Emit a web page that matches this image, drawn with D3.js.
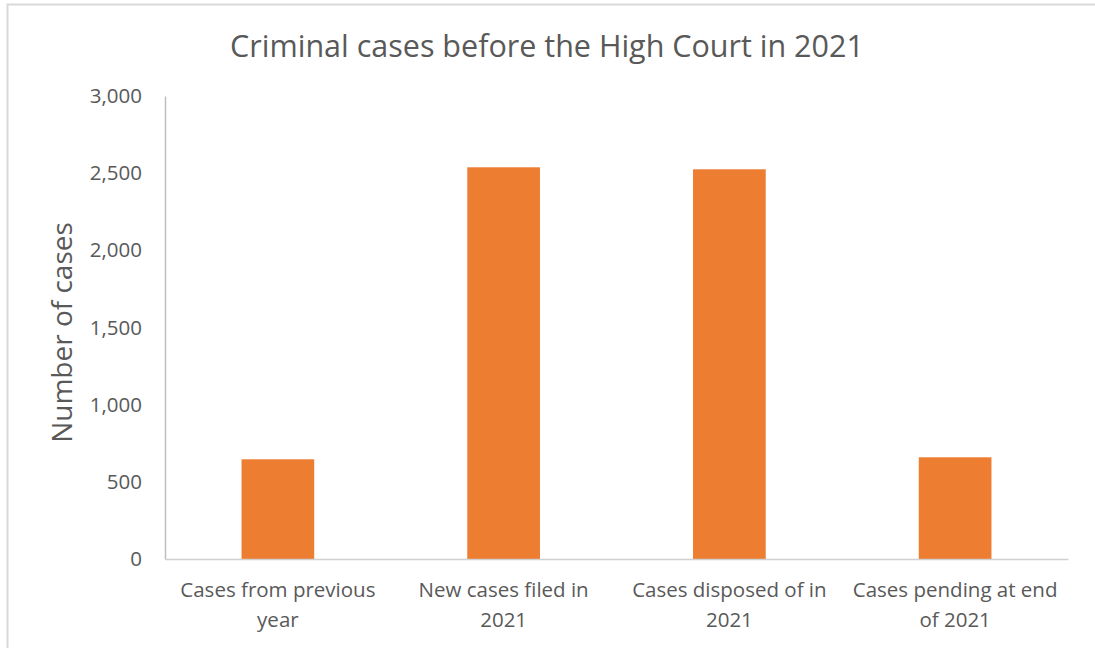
<!DOCTYPE html>
<html>
<head>
<meta charset="utf-8">
<script src="https://cdn.jsdelivr.net/npm/d3@7"></script>
<style>
  html, body { margin: 0; padding: 0; background: #fff; }
  svg { display: block; font-family: "Open Sans", sans-serif; }
</style>
</head>
<body>
<svg id="chart" width="1095" height="648"></svg>
<script>
// Criminal cases before the High Court in 2021
const categories = [
  ["Cases from previous", "year"],
  ["New cases filed in", "2021"],
  ["Cases disposed of in", "2021"],
  ["Cases pending at end", "of 2021"]
];
const values = [646, 2538, 2525, 659];
const yTicks = [0, 500, 1000, 1500, 2000, 2500, 3000];

const svg = d3.select("#chart");
const W = 1095, H = 648;
const plot = { left: 165, right: 1068, top: 96, bottom: 559 };
const textColor = "#595959";

// outer chart frame
svg.append("rect")
  .attr("x", 7.5).attr("y", 4.5)
  .attr("width", W + 10).attr("height", H + 10)
  .attr("fill", "#fff").attr("stroke", "#d9d9d9").attr("stroke-width", 2);

const keys = categories.map(d => d.join(" "));
const x = d3.scaleBand()
  .domain(keys)
  .range([plot.left, plot.right])
  .paddingInner(0.678)
  .paddingOuter(0.339);

const y = d3.scaleLinear()
  .domain([0, 3000])
  .range([plot.bottom, plot.top]);

// bars
svg.append("g").selectAll("rect")
  .data(values)
  .join("rect")
  .attr("x", (d, i) => x(keys[i]))
  .attr("y", d => y(d))
  .attr("width", x.bandwidth())
  .attr("height", d => y(0) - y(d))
  .attr("fill", "#ed7d31");

// y axis
const yAxis = d3.axisLeft(y)
  .tickValues(yTicks)
  .tickSize(0)
  .tickPadding(23)
  .tickFormat(d3.format(","));
const gy = svg.append("g")
  .attr("transform", `translate(${plot.left},0)`)
  .call(yAxis);
gy.select(".domain").attr("stroke", "#bfbfbf").attr("stroke-width", 1.5);
gy.selectAll("text")
  .attr("fill", textColor)
  .style("font-size", "20.5px")
  .style("font-family", "'Open Sans', sans-serif");

// x axis
const xAxis = d3.axisBottom(x).tickSize(0).tickFormat("");
const gx = svg.append("g")
  .attr("transform", `translate(0,${plot.bottom})`)
  .call(xAxis);
gx.select(".domain").attr("stroke", "#d0d0d0").attr("stroke-width", 1.5);

// two-line category labels
gx.selectAll(".tick").each(function(d, i) {
  const t = d3.select(this).append("text")
    .attr("fill", textColor)
    .attr("text-anchor", "middle")
    .style("font-size", "20.5px")
    .style("font-family", "'Open Sans', sans-serif");
  categories[i].forEach((line, j) => {
    t.append("tspan").attr("x", 0).attr("y", 38 + j * 30).text(line);
  });
});

// title
svg.append("text")
  .attr("x", 547).attr("y", 57)
  .attr("text-anchor", "middle")
  .attr("fill", textColor)
  .style("font-size", "30.5px")
  .text("Criminal cases before the High Court in 2021");

// y axis title
svg.append("text")
  .attr("transform", `translate(72,${(plot.top + plot.bottom) / 2 + 5}) rotate(-90)`)
  .attr("text-anchor", "middle")
  .attr("fill", textColor)
  .style("font-size", "28px")
  .text("Number of cases");
</script>
</body>
</html>
